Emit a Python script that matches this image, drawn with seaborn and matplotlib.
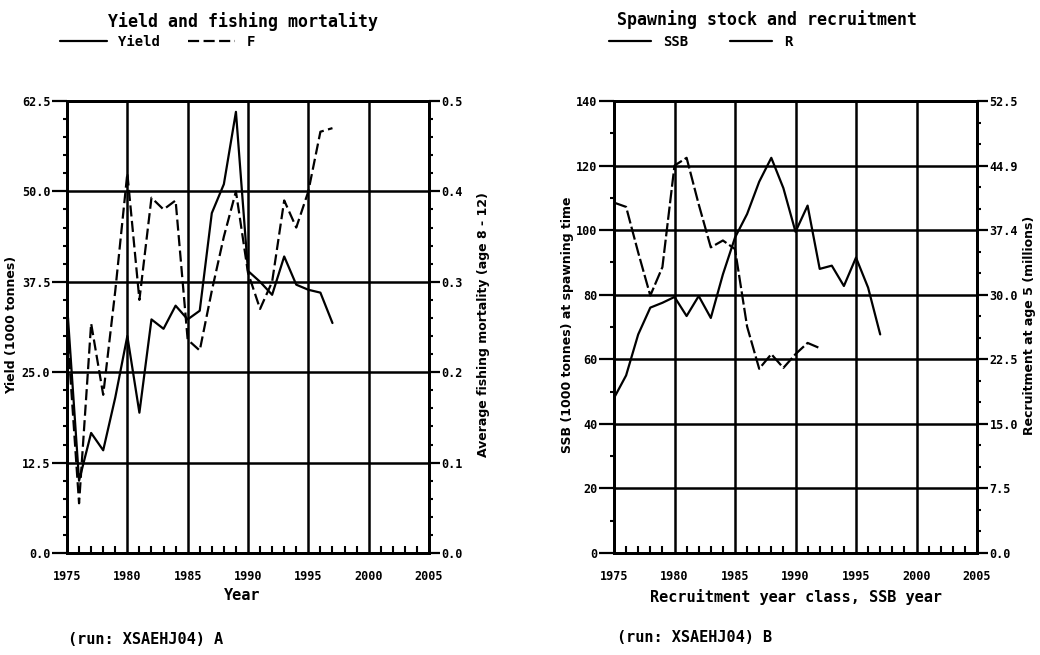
import matplotlib
matplotlib.use("Agg")
import matplotlib.pyplot as plt
import seaborn as sns
from matplotlib.ticker import MultipleLocator, FixedLocator, FixedFormatter
from matplotlib.lines import Line2D

# ---------------- data ----------------
years_a = list(range(1975, 1998))
yield_kt = [34.5, 10.0, 16.6, 14.2, 21.5, 30.0, 19.4, 32.3, 31.0, 34.2, 32.3, 33.5,
            47.0, 51.0, 61.0, 39.0, 37.5, 35.7, 41.0, 37.1, 36.4, 36.0, 31.8]
fishing_f = [0.25, 0.055, 0.254, 0.175, 0.29, 0.42, 0.28, 0.393, 0.38, 0.39, 0.236, 0.224,
             0.29, 0.35, 0.40, 0.31, 0.27, 0.30, 0.39, 0.36, 0.40, 0.466, 0.47]

years_ssb = list(range(1975, 1998))
ssb_kt = [48.0, 55.0, 67.7, 76.0, 77.5, 79.3, 73.4, 79.6, 72.8, 86.3, 97.7, 105.0,
          115.0, 122.4, 113.0, 99.5, 107.6, 88.0, 89.0, 82.7, 91.5, 82.2, 67.7]
years_r = list(range(1975, 1993))
recruit_m = [40.7, 40.2, 34.9, 29.9, 33.2, 45.0, 45.9, 40.5, 35.5, 36.3, 35.3, 26.3,
             21.4, 23.1, 21.5, 23.1, 24.4, 23.8]

yield_ticks = [0.0, 12.5, 25.0, 37.5, 50.0, 62.5]
yield_tick_labels = ["0.0", "12.5", "25.0", "37.5", "50.0", "62.5"]
f_ticks = [0.0, 0.1, 0.2, 0.3, 0.4, 0.5]
f_tick_labels = ["0.0", "0.1", "0.2", "0.3", "0.4", "0.5"]
ssb_ticks = [0, 20, 40, 60, 80, 100, 120, 140]
ssb_tick_labels = ["0", "20", "40", "60", "80", "100", "120", "140"]
r_ticks = [0.0, 7.5, 15.0, 22.5, 30.0, 37.5, 45.0, 52.5]
r_tick_labels = ["0.0", "7.5", "15.0", "22.5", "30.0", "37.4", "44.9", "52.5"]
year_ticks = [1975, 1980, 1985, 1990, 1995, 2000, 2005]
year_tick_labels = ["1975", "1980", "1985", "1990", "1995", "2000", "2005"]

# ---------------- style ----------------
sns.set_theme(style="white")
plt.rcParams['font.family'] = ['DejaVu Sans']
plt.rcParams['axes.edgecolor'] = 'black'
plt.rcParams['xtick.color'] = 'black'
plt.rcParams['ytick.color'] = 'black'
plt.rcParams['text.color'] = 'black'
plt.rcParams['axes.labelcolor'] = 'black'
plt.rcParams['xtick.labelcolor'] = 'black'
plt.rcParams['ytick.labelcolor'] = 'black'

W, H = 1040, 655
fig = plt.figure(figsize=(10.4, 6.55), dpi=100)
fig.patch.set_facecolor('white')


def fx(x):
    return x / W


def fy(y):
    return 1 - y / H


MONO = dict(family='DejaVu Sans Mono', weight='bold', color='black')
TICKFONT = dict(family='DejaVu Sans Mono', weight='bold', size=8.5)


def style_main(ax, yticks, ylabels, yminor, ylim):
    ax.set_xlim(1975, 2005)
    ax.set_ylim(*ylim)
    ax.xaxis.set_major_locator(FixedLocator(year_ticks))
    ax.xaxis.set_major_formatter(FixedFormatter(year_tick_labels))
    ax.xaxis.set_minor_locator(MultipleLocator(1))
    ax.yaxis.set_major_locator(FixedLocator(yticks))
    ax.yaxis.set_major_formatter(FixedFormatter(ylabels))
    ax.yaxis.set_minor_locator(MultipleLocator(yminor))
    ax.tick_params(axis='x', which='major', bottom=True, length=0, pad=12)
    ax.tick_params(axis='x', which='minor', bottom=True, top=False, direction='in',
                   length=5, width=1.5)
    ax.tick_params(axis='y', which='major', left=True, direction='out', length=11,
                   width=1.6, pad=1)
    ax.tick_params(axis='y', which='minor', left=True, direction='out', length=3,
                   width=1.5)
    for lab in ax.get_xticklabels() + ax.get_yticklabels():
        lab.set_fontfamily(TICKFONT['family'])
        lab.set_fontweight('bold')
        lab.set_fontsize(TICKFONT['size'])
        lab.set_color('black')
    for sp in ax.spines.values():
        sp.set_linewidth(2)
        sp.set_color('black')
    ax.grid(which='major', color='black', linewidth=1.8)
    ax.set_axisbelow(True)
    ax.set_xlabel("")
    ax.set_ylabel("")


def style_twin(ax, yticks, ylabels, yminor, ylim):
    ax.set_ylim(*ylim)
    ax.yaxis.set_major_locator(FixedLocator(yticks))
    ax.yaxis.set_major_formatter(FixedFormatter(ylabels))
    ax.yaxis.set_minor_locator(MultipleLocator(yminor))
    ax.tick_params(axis='y', which='major', right=True, direction='out', length=8,
                   width=1.6, pad=1)
    ax.tick_params(axis='y', which='minor', right=True, direction='out', length=3,
                   width=1.5)
    for lab in ax.get_yticklabels():
        lab.set_fontfamily(TICKFONT['family'])
        lab.set_fontweight('bold')
        lab.set_fontsize(TICKFONT['size'])
        lab.set_color('black')
    for sp in ax.spines.values():
        sp.set_linewidth(2)
        sp.set_color('black')
    ax.grid(False)
    ax.set_ylabel("")


# ---------------- Panel A ----------------
axA = fig.add_axes([fx(67), fy(553), fx(429) - fx(67), fy(101) - fy(553)])
sns.lineplot(x=years_a, y=yield_kt, ax=axA, color='black', linewidth=1.6, legend=False)
style_main(axA, yield_ticks, yield_tick_labels, 2.5, (0, 62.5))

axA2 = axA.twinx()
sns.lineplot(x=years_a, y=fishing_f, ax=axA2, color='black', linewidth=1.6,
             linestyle=(0, (5, 2)), legend=False)
style_twin(axA2, f_ticks, f_tick_labels, 0.02, (0, 0.5))

# ---------------- Panel B ----------------
axB = fig.add_axes([fx(614), fy(553), fx(977) - fx(614), fy(101) - fy(553)])
sns.lineplot(x=years_ssb, y=ssb_kt, ax=axB, color='black', linewidth=1.6, legend=False)
style_main(axB, ssb_ticks, ssb_tick_labels, 10, (0, 140))

axB2 = axB.twinx()
sns.lineplot(x=years_r, y=recruit_m, ax=axB2, color='black', linewidth=1.6,
             linestyle=(0, (6, 1.5)), legend=False)
style_twin(axB2, r_ticks, r_tick_labels, 2.5, (0, 52.5))

# ---------------- titles / legends / labels ----------------
fig.text(fx(243), fy(22), "Yield and fishing mortality", ha='center', va='center',
         size=12, **MONO)
fig.text(fx(767), fy(20), "Spawning stock and recruitment", ha='center', va='center',
         size=12, **MONO)

legprop = dict(family='DejaVu Sans Mono', weight='bold', size=10)
legA = fig.legend(handles=[Line2D([], [], color='black', lw=1.6),
                           Line2D([], [], color='black', lw=1.6, ls=(0, (5, 2)))],
                  labels=["Yield", "F"], loc='center left',
                  bbox_to_anchor=(fx(60), fy(42)), bbox_transform=fig.transFigure,
                  ncol=2, frameon=False, handlelength=3.4, handletextpad=0.8,
                  columnspacing=2.0, borderpad=0, borderaxespad=0, prop=legprop,
                  labelcolor='black')
legB = fig.legend(handles=[Line2D([], [], color='black', lw=1.6),
                           Line2D([], [], color='black', lw=1.6)],
                  labels=["SSB", "R"], loc='center left',
                  bbox_to_anchor=(fx(609), fy(42)), bbox_transform=fig.transFigure,
                  ncol=2, frameon=False, handlelength=3.0, handletextpad=0.9,
                  columnspacing=3.0, borderpad=0, borderaxespad=0, prop=legprop,
                  labelcolor='black')

fig.text(fx(242), fy(595), "Year", ha='center', va='center', size=11, **MONO)
fig.text(fx(796), fy(597), "Recruitment year class, SSB year", ha='center', va='center',
         size=11, **MONO)

fig.text(fx(12), fy(325), "Yield (1000 tonnes)", rotation=90, ha='center', va='center',
         size=9, weight='bold', color='black')
fig.text(fx(483), fy(325), "Average fishing mortality (age 8 - 12)", rotation=90,
         ha='center', va='center', size=9, weight='bold', color='black')
fig.text(fx(567), fy(325), "SSB (1000 tonnes) at spawning time", rotation=90,
         ha='center', va='center', size=9, weight='bold', color='black')
fig.text(fx(1030), fy(325), "Recruitment at age 5 (millions)", rotation=90,
         ha='center', va='center', size=9, weight='bold', color='black')

fig.text(fx(68), fy(640), "(run: XSAEHJ04) A", ha='left', va='center', size=11, **MONO)
fig.text(fx(617), fy(638), "(run: XSAEHJ04) B", ha='left', va='center', size=11, **MONO)

fig.savefig("out.png", dpi=100, facecolor='white')
